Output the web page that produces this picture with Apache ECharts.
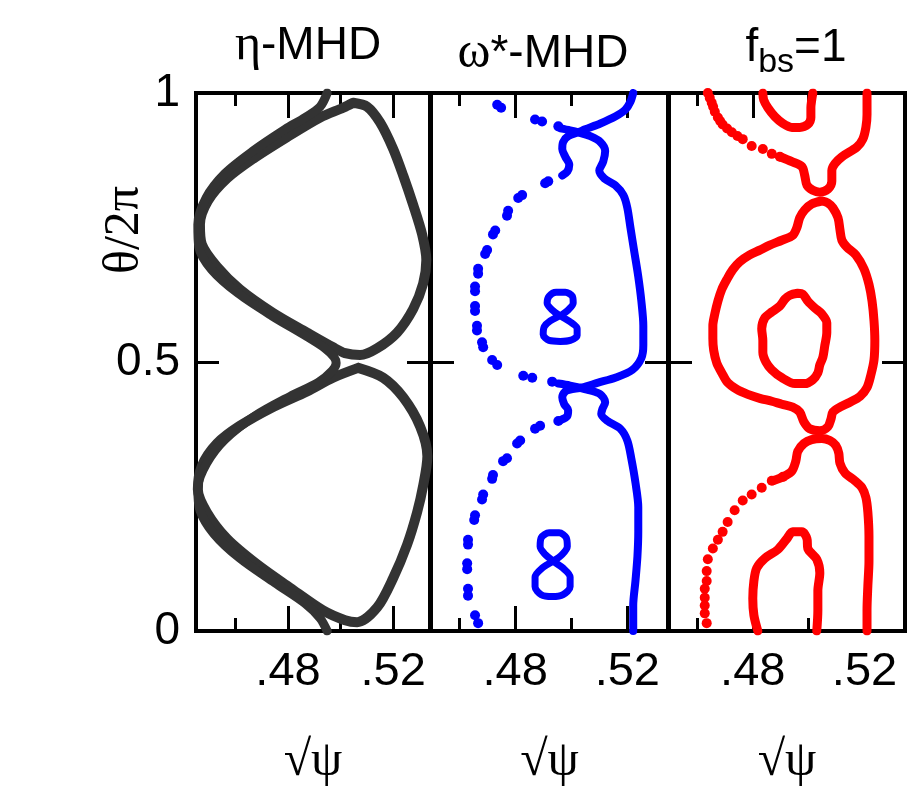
<!DOCTYPE html>
<html>
<head>
<meta charset="utf-8">
<script src="https://cdn.jsdelivr.net/npm/echarts@6/dist/echarts.min.js"></script>
<style>html,body{margin:0;padding:0;background:#fff;}#c{width:910px;height:792px;}</style>
</head>
<body>
<div id="c"></div>
<script>
// ---------- axis / label data ----------
const panelTitles = ['η-MHD', 'ω*-MHD', 'f_bs=1'];
const xRanges = [[0.445, 0.534], [0.45, 0.5345], [0.45, 0.5345]];
const xMajorTicks = [0.48, 0.52];
const xMinorTicks = [0.46, 0.50];
const yTicks = [0, 0.5, 1];
const xName = '√ψ';
const yName = 'θ/2π';

// ---------- η-MHD (dark grey) ----------
const etaUpperIsland = [[0.5048,0.9818],[0.5101,0.9745],[0.5150,0.9453],[0.5200,0.8960],[0.5238,0.8467],[0.5276,0.7920],[0.5310,0.7372],[0.5326,0.6898],[0.5314,0.6460],[0.5276,0.5985],[0.5215,0.5547],[0.5139,0.5255],[0.5074,0.5128],[0.5017,0.5164],[0.4971,0.5274],[0.4872,0.5547],[0.4743,0.5912],[0.4617,0.6350],[0.4530,0.6770],[0.4472,0.7190],[0.4465,0.7555],[0.4495,0.7993],[0.4568,0.8412],[0.4667,0.8777],[0.4796,0.9179],[0.4922,0.9544],[0.5010,0.9726],[0.5048,0.9818]];
const etaLowerIsland = [[0.5067,0.4891],[0.5162,0.4708],[0.5238,0.4343],[0.5303,0.3796],[0.5330,0.3248],[0.5314,0.2701],[0.5291,0.2208],[0.5253,0.1606],[0.5200,0.0985],[0.5139,0.0438],[0.5063,0.0164],[0.5017,0.0201],[0.4933,0.0383],[0.4808,0.0803],[0.4682,0.1241],[0.4568,0.1715],[0.4491,0.2208],[0.4457,0.2628],[0.4472,0.3066],[0.4530,0.3485],[0.4617,0.3814],[0.4743,0.4161],[0.4872,0.4453],[0.4971,0.4708],[0.5067,0.4891]];
const etaSeparatrix = [[0.4949,1.0],[0.4922,0.9745],[0.4865,0.9544],[0.4789,0.9325],[0.4667,0.8923],[0.4560,0.8504],[0.4488,0.8047],[0.4457,0.7555],[0.4461,0.7135],[0.4510,0.6715],[0.4610,0.6277],[0.4739,0.5858],[0.4865,0.5493],[0.4941,0.5255],[0.4975,0.5091],[0.4983,0.4982],[0.4968,0.4836],[0.4914,0.4617],[0.4808,0.4361],[0.4674,0.3996],[0.4560,0.3558],[0.4491,0.3120],[0.4457,0.2664],[0.4465,0.2245],[0.4518,0.1807],[0.4617,0.1350],[0.4750,0.0894],[0.4865,0.0511],[0.4922,0.0237],[0.4949,0.0]];

// ---------- ω*-MHD (blue) ----------
const wsLineA = [[0.5221,1.0],[0.5211,0.9836],[0.5193,0.9690],[0.5157,0.9562],[0.5104,0.9434],[0.5050,0.9325],[0.5025,0.9270],[0.4989,0.9197],[0.4971,0.9088],[0.4968,0.8960],[0.4979,0.8814],[0.4993,0.8668],[0.4986,0.8540],[0.4968,0.8467]];
const wsLineB = [[0.4961,0.9343],[0.4996,0.9307],[0.5025,0.9270],[0.5068,0.9197],[0.5104,0.9088],[0.5121,0.8923],[0.5114,0.8723],[0.5100,0.8558],[0.5118,0.8412],[0.5157,0.8285],[0.5186,0.8102],[0.5200,0.7865],[0.5211,0.7500],[0.5225,0.7044],[0.5239,0.6588],[0.5250,0.6131],[0.5257,0.5675],[0.5257,0.5310],[0.5250,0.5073],[0.5218,0.4854],[0.5157,0.4708],[0.5096,0.4617],[0.5039,0.4526],[0.4996,0.4489],[0.4979,0.4453],[0.4968,0.4343],[0.4975,0.4215],[0.4989,0.4106],[0.4986,0.3996],[0.4964,0.3923]];
const wsLineC = [[0.4954,0.4599],[0.4996,0.4562],[0.5025,0.4526],[0.5068,0.4471],[0.5104,0.4398],[0.5121,0.4252],[0.5111,0.4124],[0.5107,0.4033],[0.5129,0.3905],[0.5175,0.3759],[0.5200,0.3540],[0.5214,0.3212],[0.5229,0.2755],[0.5239,0.2299],[0.5239,0.1843],[0.5236,0.1387],[0.5229,0.0931],[0.5221,0.0474],[0.5221,0.0]];
const wsDotsTop = [[0.4736,0.9781],[0.4750,0.9726],[0.4871,0.9507],[0.4896,0.9471],[0.4954,0.9380]];
const wsDotsUpper = [[0.4918,0.8358],[0.4907,0.8321],[0.4825,0.8102],[0.4811,0.8047],[0.4775,0.7810],[0.4771,0.7719],[0.4729,0.7445],[0.4721,0.7372],[0.4700,0.7080],[0.4693,0.7007],[0.4668,0.6734],[0.4668,0.6642],[0.4657,0.6405],[0.4657,0.6314],[0.4657,0.6040],[0.4657,0.5949],[0.4664,0.5675],[0.4664,0.5584],[0.4682,0.5365],[0.4686,0.5274],[0.4718,0.5036],[0.4736,0.4945],[0.4829,0.4745],[0.4861,0.4708],[0.4932,0.4635]];
const wsDotsLower = [[0.4954,0.3905],[0.4889,0.3814],[0.4871,0.3759],[0.4818,0.3540],[0.4807,0.3485],[0.4771,0.3212],[0.4757,0.3157],[0.4721,0.2901],[0.4718,0.2828],[0.4686,0.2536],[0.4682,0.2445],[0.4657,0.2153],[0.4654,0.2062],[0.4632,0.1697],[0.4632,0.1606],[0.4629,0.1259],[0.4629,0.1150],[0.4632,0.0785],[0.4632,0.0657],[0.4657,0.0292],[0.4668,0.0146]];
const wsEightUpper = [[0.4961,0.5858],[0.4989,0.5967],[0.5007,0.6095],[0.5004,0.6223],[0.4979,0.6296],[0.4946,0.6296],[0.4921,0.6223],[0.4914,0.6095],[0.4932,0.5967],[0.4961,0.5858],[0.4996,0.5748],[0.5021,0.5620],[0.5021,0.5493],[0.4996,0.5401],[0.4961,0.5383],[0.4921,0.5401],[0.4900,0.5511],[0.4904,0.5657],[0.4925,0.5766],[0.4961,0.5858]];
const wsEightLower = [[0.4936,0.1296],[0.4968,0.1423],[0.4986,0.1569],[0.4982,0.1734],[0.4957,0.1825],[0.4921,0.1825],[0.4893,0.1734],[0.4889,0.1569],[0.4907,0.1423],[0.4936,0.1296],[0.4971,0.1168],[0.4996,0.1004],[0.4996,0.0821],[0.4971,0.0675],[0.4932,0.0639],[0.4893,0.0675],[0.4871,0.0821],[0.4871,0.1004],[0.4896,0.1168],[0.4936,0.1296]];

// ---------- f_bs=1 (red) ----------
const fbsDotsUpperLeft = [[0.4639,1.0],[0.4646,0.9909],[0.4653,0.9818],[0.4658,0.9745],[0.4664,0.9653],[0.4675,0.9544],[0.4683,0.9480],[0.4692,0.9416],[0.4708,0.9340],[0.4725,0.9270],[0.4745,0.9200],[0.4764,0.9142],[0.4796,0.9015],[0.4836,0.8960],[0.4868,0.8869],[0.4897,0.8814]];
const fbsSeparatrixTop = [[0.4897,0.8814],[0.4940,0.8723],[0.4976,0.8631],[0.4986,0.8467],[0.4994,0.8285],[0.5015,0.8193],[0.5040,0.8157],[0.5069,0.8212],[0.5083,0.8358],[0.5083,0.8558],[0.5094,0.8686],[0.5119,0.8814],[0.5173,0.8996],[0.5194,0.9142],[0.5205,0.9361],[0.5209,0.9599],[0.5209,1.0]];
const fbsIslandTop = [[0.4836,1.0],[0.4839,0.9872],[0.4854,0.9726],[0.4879,0.9562],[0.4908,0.9434],[0.4940,0.9361],[0.4968,0.9361],[0.4997,0.9416],[0.5008,0.9544],[0.5008,0.9726],[0.5011,0.9872],[0.5015,1.0]];
const fbsIslandBottom = [[0.4818,0.0],[0.4804,0.0292],[0.4800,0.0602],[0.4804,0.0931],[0.4814,0.1168],[0.4843,0.1350],[0.4890,0.1515],[0.4922,0.1715],[0.4943,0.1843],[0.4976,0.1843],[0.4994,0.1715],[0.4997,0.1533],[0.5029,0.1332],[0.5040,0.1077],[0.5033,0.0748],[0.5033,0.0383],[0.5029,0.0]];
const fbsMiddleLoop = [[0.5047,0.7993],[0.5011,0.7938],[0.4986,0.7828],[0.4968,0.7682],[0.4958,0.7500],[0.4943,0.7354],[0.4904,0.7263],[0.4861,0.7172],[0.4825,0.7080],[0.4789,0.6989],[0.4753,0.6861],[0.4728,0.6715],[0.4707,0.6533],[0.4689,0.6350],[0.4675,0.6131],[0.4664,0.5894],[0.4657,0.5675],[0.4657,0.5438],[0.4660,0.5219],[0.4671,0.4982],[0.4689,0.4799],[0.4710,0.4617],[0.4743,0.4489],[0.4782,0.4398],[0.4825,0.4325],[0.4868,0.4270],[0.4904,0.4215],[0.4943,0.4161],[0.4968,0.4069],[0.4983,0.3887],[0.5004,0.3759],[0.5040,0.3723],[0.5069,0.3796],[0.5080,0.3942],[0.5087,0.4069],[0.5112,0.4161],[0.5148,0.4252],[0.5184,0.4361],[0.5209,0.4526],[0.5223,0.4763],[0.5234,0.5036],[0.5237,0.5401],[0.5234,0.5766],[0.5227,0.6131],[0.5216,0.6442],[0.5198,0.6734],[0.5169,0.6989],[0.5137,0.7135],[0.5119,0.7263],[0.5112,0.7464],[0.5105,0.7682],[0.5087,0.7865],[0.5069,0.7956],[0.5047,0.7993]];
const fbsInnerLoop = [[0.4961,0.6277],[0.4933,0.6241],[0.4915,0.6168],[0.4897,0.6040],[0.4868,0.5931],[0.4843,0.5821],[0.4832,0.5620],[0.4836,0.5401],[0.4836,0.5182],[0.4847,0.5000],[0.4868,0.4854],[0.4904,0.4708],[0.4951,0.4599],[0.4986,0.4599],[0.5015,0.4672],[0.5033,0.4799],[0.5040,0.4945],[0.5051,0.5091],[0.5058,0.5310],[0.5065,0.5547],[0.5065,0.5730],[0.5047,0.5894],[0.5022,0.6004],[0.4997,0.6131],[0.4979,0.6259],[0.4961,0.6277]];
const fbsLowerRight = [[0.4872,0.2792],[0.4915,0.2883],[0.4940,0.2974],[0.4954,0.3157],[0.4961,0.3339],[0.4983,0.3485],[0.5011,0.3558],[0.5047,0.3577],[0.5076,0.3540],[0.5097,0.3449],[0.5108,0.3303],[0.5112,0.3120],[0.5130,0.2938],[0.5166,0.2792],[0.5191,0.2664],[0.5205,0.2482],[0.5212,0.2208],[0.5216,0.1752],[0.5216,0.1296],[0.5212,0.0839],[0.5209,0.0383],[0.5209,0.0]];
const fbsDotsLowerLeft = [[0.4908,0.2865],[0.4868,0.2792],[0.4832,0.2664],[0.4796,0.2536],[0.4764,0.2427],[0.4735,0.2245],[0.4710,0.2026],[0.4692,0.1843],[0.4675,0.1697],[0.4657,0.1533],[0.4639,0.1332],[0.4635,0.1113],[0.4635,0.0931],[0.4628,0.0785],[0.4628,0.0620],[0.4628,0.0474],[0.4628,0.0328],[0.4635,0.0146]];

// ---------- layout ----------
const grids = [
  {left: 196, width: 234, top: 93, height: 548},
  {left: 431, width: 237, top: 93, height: 548},
  {left: 669, width: 236, top: 93, height: 548}
];
const GREY = '#333333', BLUE = '#0000ff', RED = '#ff0000';
const tickStyle = {color: '#000', width: 3};

const xAxes = [], yAxes = [];
grids.forEach((g, i) => {
  const base = {type: 'value', gridIndex: i, min: xRanges[i][0], max: xRanges[i][1],
    axisLine: {show: false}, splitLine: {show: false}};
  xAxes.push(Object.assign({}, base, {
    position: 'bottom', name: xName, nameLocation: 'middle', nameGap: 106,
    nameTextStyle: {fontFamily: 'Liberation Serif', fontSize: 50, color: '#000'},
    axisTick: {show: true, inside: true, length: 25, lineStyle: tickStyle, customValues: xMajorTicks},
    axisLabel: {show: true, customValues: xMajorTicks, margin: 18, fontSize: 47, color: '#000',
      fontFamily: 'Liberation Sans', formatter: v => String(v).replace(/^0/, '')}
  }));
  xAxes.push(Object.assign({}, base, {position: 'bottom',
    axisTick: {show: true, inside: true, length: 13, lineStyle: tickStyle, customValues: xMinorTicks},
    axisLabel: {show: false}}));
  xAxes.push(Object.assign({}, base, {position: 'top',
    axisTick: {show: true, inside: true, length: 25, lineStyle: tickStyle, customValues: xMajorTicks},
    axisLabel: {show: false}}));
  xAxes.push(Object.assign({}, base, {position: 'top',
    axisTick: {show: true, inside: true, length: 13, lineStyle: tickStyle, customValues: xMinorTicks},
    axisLabel: {show: false}}));
  ['left', 'right'].forEach(pos => {
    yAxes.push({type: 'value', gridIndex: i, min: 0, max: 1, interval: 0.5, position: pos,
      axisLine: {show: false}, splitLine: {show: false},
      axisTick: {show: true, inside: true, length: 23, lineStyle: tickStyle},
      axisLabel: {show: i === 0 && pos === 'left', margin: 16, fontSize: 46, color: '#000',
        fontFamily: 'Liberation Sans'}});
  });
});

function lineS(data, gi, color, width) {
  return {type: 'line', data: data, xAxisIndex: gi * 4, yAxisIndex: gi * 2, showSymbol: false,
    symbol: 'none', smooth: 0.3, lineStyle: {color: color, width: width, cap: 'round', join: 'round'},
    silent: true, clip: true};
}
function dotS(data, gi, color, size) {
  return {type: 'scatter', data: data, xAxisIndex: gi * 4, yAxisIndex: gi * 2,
    symbolSize: size, itemStyle: {color: color, opacity: 1}, silent: true};
}

const series = [
  lineS(etaUpperIsland, 0, GREY, 10),
  lineS(etaLowerIsland, 0, GREY, 10),
  lineS(etaSeparatrix, 0, GREY, 9),
  lineS(wsLineA, 1, BLUE, 8),
  lineS(wsLineB, 1, BLUE, 8),
  lineS(wsLineC, 1, BLUE, 8),
  lineS(wsEightUpper, 1, BLUE, 7),
  lineS(wsEightLower, 1, BLUE, 7),
  dotS(wsDotsTop, 1, BLUE, 10),
  dotS(wsDotsUpper, 1, BLUE, 10),
  dotS(wsDotsLower, 1, BLUE, 10),
  lineS(fbsSeparatrixTop, 2, RED, 9),
  lineS(fbsIslandTop, 2, RED, 9),
  lineS(fbsIslandBottom, 2, RED, 9),
  lineS(fbsMiddleLoop, 2, RED, 9),
  lineS(fbsInnerLoop, 2, RED, 9),
  lineS(fbsLowerRight, 2, RED, 9),
  dotS(fbsDotsUpperLeft, 2, RED, 10),
  dotS(fbsDotsLowerLeft, 2, RED, 10)
];

const textBase = {fill: '#000', fontFamily: 'Liberation Sans', fontSize: 46,
  align: 'center', verticalAlign: 'middle', textAlign: 'center', textVerticalAlign: 'middle'};
const graphics = [
  {type: 'text', x: 308, y: 46, style: Object.assign({}, textBase, {text: '{g|η}-MHD',
    rich: {g: {fontFamily: 'Liberation Serif', fontSize: 50}}})},
  {type: 'text', x: 543, y: 54, style: Object.assign({}, textBase, {text: '{g|ω}*-MHD',
    rich: {g: {fontFamily: 'Liberation Serif', fontSize: 50}}})},
  {type: 'text', x: 796, y: 48, style: Object.assign({}, textBase, {text: 'f{s|bs}=1',
    rich: {s: {fontFamily: 'Liberation Sans', fontSize: 34, padding: [30, 0, 0, 0]}}})},
  {type: 'text', x: 125, y: 230, rotation: Math.PI / 2, style: Object.assign({}, textBase, {text: '{t|' + yName + '}',
    rich: {t: {fontFamily: 'Liberation Serif', fontSize: 50}}})}
];

const chart = echarts.init(document.getElementById('c'), null, {renderer: 'canvas'});
chart.setOption({
  animation: false,
  backgroundColor: '#fff',
  grid: grids.map(g => Object.assign({show: true, borderColor: '#000', borderWidth: 4, backgroundColor: 'transparent'}, g)),
  xAxis: xAxes,
  yAxis: yAxes,
  series: series,
  graphic: graphics
});
</script>
</body>
</html>
